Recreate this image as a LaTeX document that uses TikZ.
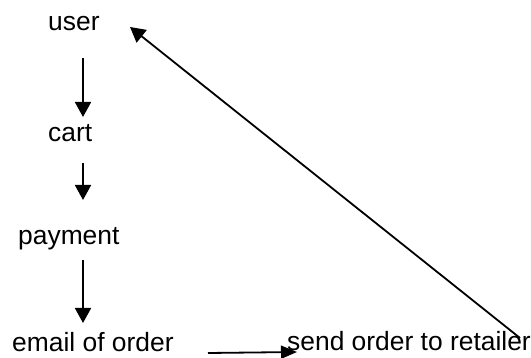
\documentclass[tikz,border=0pt]{standalone}
\usepackage{fontspec}
\setmainfont{Liberation Sans}
\usetikzlibrary{arrows.meta}
\begin{document}
\begin{tikzpicture}[x=1pt,y=1pt,
  lbl/.style={inner sep=0pt,anchor=base west,font=\fontsize{26.4}{31}\selectfont,text=black},
  arr/.style={line width=1.8pt,-{Triangle[width=16pt,length=15pt]}},
  arrsmall/.style={line width=1.8pt,-{Triangle[width=13pt,length=16pt]}}]
\useasboundingbox (0,0) rectangle (531,-358);
\node[lbl] (user) at (48,-31) {user};
\node[lbl] (cart) at (48,-142) {cart};
\node[lbl] (pay) at (18,-245) {payment};
\node[lbl] (email) at (12,-352) {email of order};
\node[lbl] (send) at (287,-351) {send order to retailer};
\draw[arr] ([shift={(35,-27)}]user.base west) -- ([shift={(35,25)}]cart.base west);
\draw[arr] ([shift={(35,-21)}]cart.base west) -- ([shift={(65,45)}]pay.base west);
\draw[arr] ([shift={(65,-15)}]pay.base west) -- ([shift={(71,29)}]email.base west);
\draw[arrsmall] ([shift={(196,-1)}]email.base west) -- ([shift={(10,-1)}]send.base west);
\draw[arr] ([shift={(233,13)}]send.base west) -- ([shift={(82,4)}]user.base west);
\end{tikzpicture}
\end{document}
